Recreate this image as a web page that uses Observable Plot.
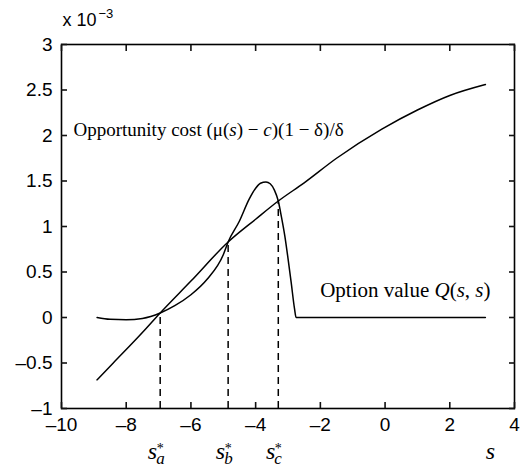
<!DOCTYPE html>
<html><head><meta charset="utf-8">
<script src="https://cdn.jsdelivr.net/npm/d3@7"></script>
<script src="https://cdn.jsdelivr.net/npm/@observablehq/plot@0.6"></script>
<style>body{margin:0;background:#fff}</style>
</head><body><div id="chart"></div>
<script>
const xTicks = [-10, -8, -6, -4, -2, 0, 2, 4];
const xTickLabels = ["–10", "–8", "–6", "–4", "–2", "0", "2", "4"];
const yTicks = [-1, -0.5, 0, 0.5, 1, 1.5, 2, 2.5, 3];
const yTickLabels = ["–1", "–0.5", "0", "0.5", "1", "1.5", "2", "2.5", "3"];

// Opportunity cost (x 10^-3)
const costS = [-8.9, -8.4, -7.5, -6.95, -6, -4.85, -4, -3.3, -2.5, -1.5, -0.1, 1, 2, 3.1];
const costV = [-0.685, -0.5, -0.165, 0.05, 0.40, 0.83, 1.08, 1.28, 1.48, 1.75, 2.07, 2.28, 2.44, 2.56];

// Option value Q(s,s) (x 10^-3)
const optS = [-8.9, -8.5, -8, -7.5, -6.95, -6.5, -6, -5.5, -5, -4.85, -4.5, -4.2, -4.0, -3.85, -3.68, -3.55, -3.42, -3.3, -3.2, -3.1, -3.0, -2.9, -2.8, -2.75, 3.1];
const optV = [0, -0.02, -0.025, -0.01, 0.05, 0.13, 0.25, 0.42, 0.69, 0.83, 1.06, 1.30, 1.42, 1.475, 1.49, 1.47, 1.40, 1.28, 1.10, 0.90, 0.65, 0.38, 0.10, 0, 0];

// Critical points
const critNames = ["a", "b", "c"];
const critS = [-6.95, -4.85, -3.3];
const critV = [0.05, 0.83, 1.28];

const costData = costS.map((s, i) => ({s, v: costV[i]}));
const optData = optS.map((s, i) => ({s, v: optV[i]}));
const critData = critS.map((s, i) => ({s, v: critV[i], name: critNames[i]}));

const sans = "'Liberation Sans', Arial, Helvetica, sans-serif";
const serif = "'Liberation Serif', 'Times New Roman', serif";

const W = 530, H = 466, mL = 61, mR = 16, mT = 44, mB = 58;
const tk = 6;

const chart = Plot.plot({
  width: W, height: H,
  marginLeft: mL, marginRight: mR, marginTop: mT, marginBottom: mB,
  style: {fontFamily: sans, fontSize: "19px", color: "#000", background: "#fff"},
  x: {domain: [-10, 4]},
  y: {domain: [-1, 3]},
  marks: [
    // tick labels
    Plot.axisX({ticks: xTicks, tickSize: 0, tickPadding: 9, label: null, fontSize: 19,
      tickFormat: d => xTickLabels[xTicks.indexOf(d)]}),
    Plot.axisY({ticks: yTicks, tickSize: 0, tickPadding: 9, label: null, fontSize: 19,
      tickFormat: d => yTickLabels[yTicks.indexOf(d)]}),
    Plot.ruleX(critData, {x: "s", y1: -1, y2: "v", stroke: "#000", strokeWidth: 1.5, strokeDasharray: "7,5"}),
    Plot.line(costData, {x: "s", y: "v", stroke: "#000", strokeWidth: 1.5, curve: "monotone-x"}),
    Plot.line(optData, {x: "s", y: "v", stroke: "#000", strokeWidth: 1.5, curve: "monotone-x"}),
    Plot.frame({stroke: "#000", strokeWidth: 1.6}),
    // inward tick marks on the four sides (labels omitted), drawn after the frame
    Plot.axisX({anchor: "bottom", ticks: xTicks, tickSize: -tk, tickFormat: () => "", label: null, strokeWidth: 1.6, stroke: "#111"}),
    Plot.axisX({anchor: "top", ticks: xTicks, tickSize: -tk, tickFormat: () => "", label: null, strokeWidth: 1.6, stroke: "#111"}),
    Plot.axisY({anchor: "left", ticks: yTicks, tickSize: -tk, tickFormat: () => "", label: null, strokeWidth: 1.6, stroke: "#111"}),
    Plot.axisY({anchor: "right", ticks: yTicks, tickSize: -tk, tickFormat: () => "", label: null, strokeWidth: 1.6, stroke: "#111"}),
    // exponent label
    Plot.text(["x 10"], {frameAnchor: "top-left", textAnchor: "start", lineAnchor: "bottom", dx: 1, dy: -19, fontSize: 18, fontFamily: sans}),
    Plot.text(["−3"], {frameAnchor: "top-left", textAnchor: "start", lineAnchor: "bottom", dx: 37, dy: -27, fontSize: 13, fontFamily: sans}),
    // curve labels
    Plot.text(["OPPCOST"], {frameAnchor: "top-left", textAnchor: "start", lineAnchor: "middle", dx: 12, dy: 85, fontSize: 19, fontFamily: serif}),
    Plot.text(["OPTVAL"], {frameAnchor: "top-right", textAnchor: "end", lineAnchor: "middle", dx: -24, dy: 246, fontSize: 21, fontFamily: serif}),
    // critical point labels
    Plot.text(critData, {x: "s", text: () => "s", frameAnchor: "bottom", textAnchor: "end", lineAnchor: "bottom", dx: -3, dy: 50, fontSize: 24, fontStyle: "italic", fontFamily: serif}),
    Plot.text(critData, {x: "s", text: "name", frameAnchor: "bottom", textAnchor: "start", lineAnchor: "bottom", dx: -4, dy: 55, fontSize: 17, fontStyle: "italic", fontFamily: serif}),
    Plot.text(critData, {x: "s", text: () => "*", frameAnchor: "bottom", textAnchor: "middle", lineAnchor: "bottom", dx: 0, dy: 44, fontSize: 14, fontFamily: serif}),
    Plot.text(["s"], {frameAnchor: "bottom-right", textAnchor: "middle", lineAnchor: "bottom", dx: -24, dy: 50, fontSize: 24, fontStyle: "italic", fontFamily: serif})
  ]
});
document.getElementById("chart").appendChild(chart);

const costLabelParts = [["Opportunity cost (μ(", false], ["s", true], [") − ", false], ["c", true], [")(1 − δ)/δ", false]];
const optLabelParts = [["Option value ", false], ["Q", true], ["(", false], ["s", true], [", ", false], ["s", true], [")", false]];
function fill(key, parts) {
  d3.select(chart).selectAll("text").filter(function() { return this.textContent === key; }).each(function() {
    const t = d3.select(this);
    t.text(null);
    parts.forEach(([str, it]) => t.append("tspan").attr("font-style", it ? "italic" : "normal").text(str));
  });
}
fill("OPPCOST", costLabelParts);
fill("OPTVAL", optLabelParts);
</script>
</body></html>
